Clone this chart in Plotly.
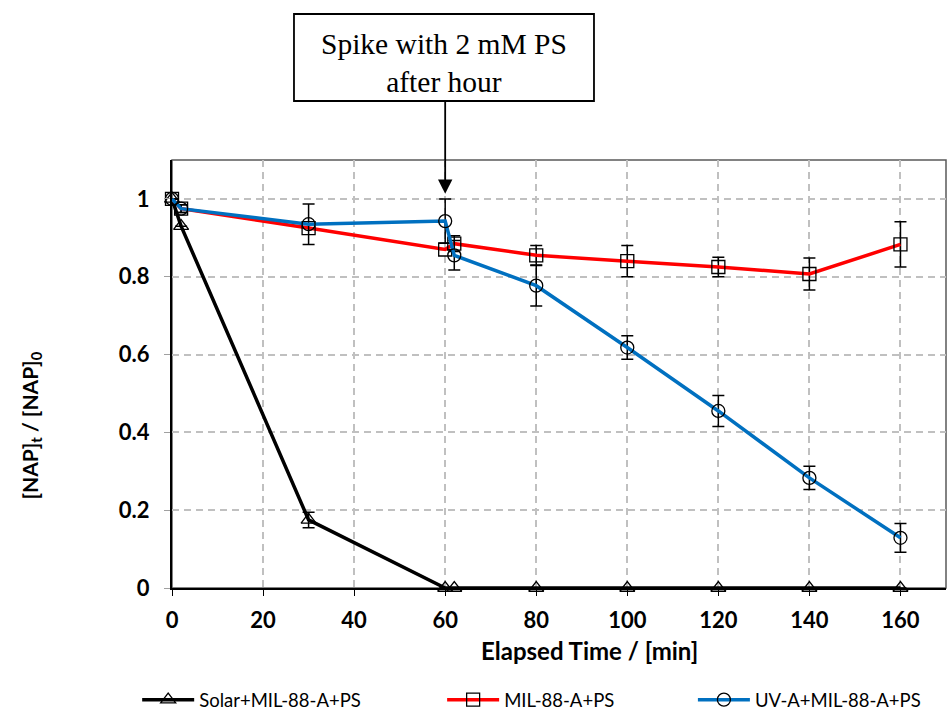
import plotly.graph_objects as go

time_min = [0, 2, 30, 60, 62, 80, 100, 120, 140, 160]

solar_vals = [1.0, 0.93, 0.175, 0.0, 0.0, 0.0, 0.0, 0.0, 0.0, 0.0]
solar_err = [0.0, 0.0, 0.02, 0.0, 0.0, 0.0, 0.0, 0.0, 0.0, 0.0]

mil_vals = [1.0, 0.975, 0.925, 0.87, 0.885, 0.855, 0.84, 0.825, 0.807, 0.883]
mil_err = [0.0, 0.01, 0.0, 0.0, 0.02, 0.025, 0.04, 0.025, 0.041, 0.058]

uva_vals = [1.0, 0.975, 0.935, 0.943, 0.855, 0.777, 0.618, 0.455, 0.283, 0.129]
uva_err = [0.0, 0.01, 0.052, 0.057, 0.038, 0.052, 0.03, 0.04, 0.03, 0.037]

series_names = ["Solar+MIL-88-A+PS", "MIL-88-A+PS", "UV-A+MIL-88-A+PS"]
x_ticks = [0, 20, 40, 60, 80, 100, 120, 140, 160]
y_ticks = [0, 0.2, 0.4, 0.6, 0.8, 1.0]
y_tick_text = ["0", "0.2", "0.4", "0.6", "0.8", "1"]
x_title = "<b>Elapsed Time / [min]</b>"
y_title = "<b>[NAP]<sub>t</sub> / [NAP]<sub>0</sub></b>"
note_text = "Spike with 2 mM PS<br>after hour"
spike_time = 60

fig = go.Figure()

specs = [
    (solar_vals, solar_err, "#000000", "triangle-up-open", "legend"),
    (mil_vals, mil_err, "#ff0000", "square-open", "legend2"),
    (uva_vals, uva_err, "#0070c0", "circle-open", "legend3"),
]
for (vals, err, col, sym, lg), name in zip(specs, series_names):
    fig.add_trace(go.Scatter(
        x=time_min, y=vals, name=name, mode="lines+markers",
        line=dict(color=col, width=3.5),
        marker=dict(symbol=sym, size=13, color="#000000", line=dict(width=1.3)),
        error_y=dict(type="data", array=err, visible=True, color="#000000",
                     thickness=1.5, width=6),
        cliponaxis=False, legend=lg,
    ))

FONT = "Lato"
LEG_Y = -0.262
leg_common = dict(y=LEG_Y, xanchor="left", yanchor="middle", orientation="h",
                  font=dict(family=FONT, size=18.5), itemwidth=52, bgcolor="rgba(0,0,0,0)")
fig.update_layout(
    width=947, height=723,
    margin=dict(l=172, r=1, t=160, b=135),
    plot_bgcolor="white", paper_bgcolor="white",
    font=dict(family=FONT, color="#000000"),
    xaxis=dict(
        range=[0, 170], tickvals=x_ticks, showgrid=True,
        gridcolor="#c0c0c0", gridwidth=1.5, griddash="7px,5px",
        showline=True, linecolor="#000000", linewidth=2,
        ticks="outside", ticklen=6, tickcolor="#000000",
        ticklabelstandoff=6,
        tickfont=dict(family=FONT, size=22, weight="bold"),
        zeroline=False,
    ),
    yaxis=dict(
        range=[0, 1.1], tickvals=y_ticks, ticktext=y_tick_text, showgrid=True,
        gridcolor="#c0c0c0", gridwidth=1.5, griddash="7px,5px",
        showline=True, linecolor="#000000", linewidth=2,
        ticks="outside", ticklen=6, tickcolor="#a0a0a0",
        ticklabelstandoff=10,
        tickfont=dict(family=FONT, size=22, weight="bold"),
        zeroline=False,
    ),
    legend=dict(x=-0.045, **leg_common),
    legend2=dict(x=0.349, **leg_common),
    legend3=dict(x=0.673, **leg_common),
    showlegend=True,
)

# axis titles (offset like the original)
fig.add_annotation(x=0.539, y=-0.147, xref="paper", yref="paper", showarrow=False,
                   text=x_title, font=dict(family=FONT, size=24),
                   xanchor="center", yanchor="middle")
fig.add_annotation(x=-0.182, y=0.380, xref="paper", yref="paper", showarrow=False,
                   text=y_title, font=dict(family=FONT, size=21), textangle=-90,
                   xanchor="center", yanchor="middle")

# plot-area border (top/right grey)
fig.add_shape(type="rect", xref="paper", yref="paper", x0=0, x1=1, y0=0, y1=1,
              line=dict(color="#595959", width=1.5), layer="below")

# callout box, text and arrow
fig.add_shape(type="rect", xref="paper", yref="paper", x0=0.1576, x1=0.5452,
              y0=1.1379, y1=1.3411, line=dict(color="#000000", width=1.8),
              fillcolor="white", layer="above")
fig.add_annotation(x=0.3514, y=1.2255, xref="paper", yref="paper", showarrow=False,
                   text=note_text, xanchor="center", yanchor="middle", align="center",
                   font=dict(family="Liberation Serif", size=29.5, color="#000000"))
fig.add_annotation(
    x=spike_time, y=1.013, xref="x", yref="y",
    ax=0, ay=-94, axref="pixel", ayref="pixel", text="",
    showarrow=True, arrowhead=2, arrowsize=1.6, arrowwidth=1.8, arrowcolor="#000000",
    standoff=0,
)

fig.write_html("out.html")
